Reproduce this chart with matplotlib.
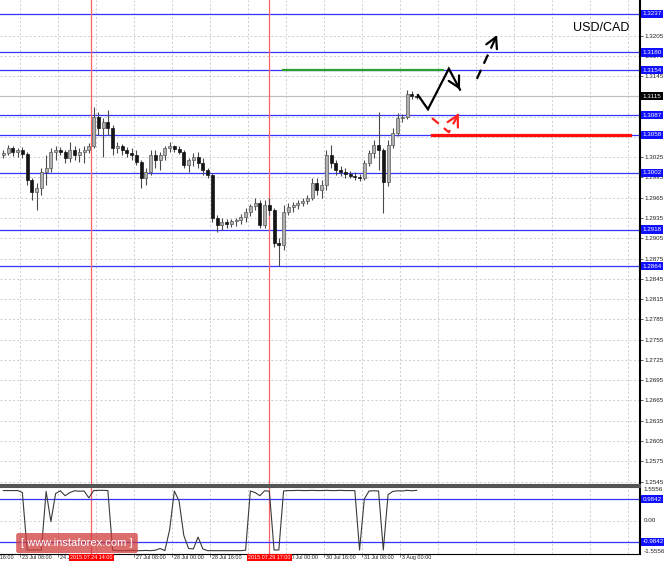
import matplotlib
matplotlib.use('Agg')
import matplotlib.pyplot as plt
import matplotlib.transforms as mtransforms
import numpy as np

plt.rcParams['font.family'] = ['Liberation Sans', 'DejaVu Sans']

# USD/CAD, 2-hour bars; x = trading hours since 23 Jul 08:00 (weekend removed)
first_bar_hour = -8
bar_hours = 2

opens = [1.3028, 1.3031, 1.3039, 1.3033, 1.3036, 1.3030, 1.2991, 1.2974, 1.2980, 1.3003,
         1.3009, 1.3033, 1.3036, 1.3033, 1.3024, 1.3036, 1.3028, 1.3033, 1.3036, 1.3042,
         1.3085, 1.3068, 1.3077, 1.3068, 1.3039, 1.3042, 1.3036, 1.3031, 1.3028, 1.3018,
         1.2994, 1.3003, 1.3028, 1.3021, 1.3028, 1.3039, 1.3042, 1.3037, 1.3033, 1.3014,
         1.3021, 1.3025, 1.3016, 1.3006, 1.2999, 1.2935, 1.2925, 1.2929, 1.2926, 1.2931,
         1.2932, 1.2937, 1.2944, 1.2953, 1.2957, 1.2925, 1.2954, 1.2947, 1.2898, 1.2895,
         1.2944, 1.2951, 1.2954, 1.2957, 1.2960, 1.2965, 1.2987, 1.2977, 1.2984, 1.3028,
         1.3016, 1.3006, 1.3003, 1.3000, 1.2997, 1.2996, 1.2994, 1.3016, 1.3031, 1.3043,
         1.3036, 1.2988, 1.3043, 1.3061, 1.3083, 1.3085, 1.3119, 1.3116]
highs = [1.3036, 1.3043, 1.3042, 1.3039, 1.3040, 1.3033, 1.2994, 1.2987, 1.3009, 1.3028,
         1.3039, 1.3042, 1.3040, 1.3036, 1.3048, 1.3042, 1.3039, 1.3042, 1.3046, 1.3099,
         1.3092, 1.3083, 1.3095, 1.3073, 1.3048, 1.3045, 1.3040, 1.3039, 1.3036, 1.3021,
         1.3009, 1.3036, 1.3036, 1.3033, 1.3042, 1.3048, 1.3043, 1.3042, 1.3036, 1.3024,
         1.3031, 1.3033, 1.3024, 1.3009, 1.3002, 1.2940, 1.2935, 1.2934, 1.2934, 1.2935,
         1.2941, 1.2950, 1.2956, 1.2965, 1.2962, 1.2962, 1.2965, 1.2950, 1.2905, 1.2954,
         1.2957, 1.2959, 1.2962, 1.2965, 1.2969, 1.2994, 1.2994, 1.2991, 1.3036, 1.3043,
         1.3021, 1.3012, 1.3009, 1.3005, 1.3003, 1.3000, 1.3021, 1.3036, 1.3050, 1.3092,
         1.3039, 1.3050, 1.3068, 1.3090, 1.3089, 1.3125, 1.3123, 1.3119]
lows = [1.3024, 1.3028, 1.3027, 1.3025, 1.3024, 1.2984, 1.2962, 1.2947, 1.2969, 1.2984,
        1.3003, 1.3021, 1.3028, 1.3016, 1.3018, 1.3021, 1.3018, 1.3016, 1.3031, 1.3039,
        1.3058, 1.3025, 1.3058, 1.3028, 1.3031, 1.3028, 1.3025, 1.3021, 1.3014, 1.2980,
        1.2984, 1.2999, 1.3009, 1.3006, 1.3021, 1.3033, 1.3033, 1.3030, 1.3009, 1.3003,
        1.3012, 1.3009, 1.2999, 1.2994, 1.2929, 1.2914, 1.2917, 1.2920, 1.2922, 1.2923,
        1.2926, 1.2929, 1.2938, 1.2947, 1.2920, 1.2920, 1.2940, 1.2892, 1.2864, 1.2888,
        1.2940, 1.2944, 1.2948, 1.2953, 1.2956, 1.2962, 1.2969, 1.2965, 1.2977, 1.3009,
        1.2999, 1.2997, 1.2994, 1.2994, 1.2991, 1.2990, 1.2991, 1.3012, 1.3024, 1.3006,
        1.2942, 1.2982, 1.3039, 1.3056, 1.3077, 1.3082, 1.3111, 1.3111]
closes = [1.3031, 1.3039, 1.3033, 1.3036, 1.3030, 1.2991, 1.2974, 1.2980, 1.3003, 1.3009,
          1.3033, 1.3036, 1.3033, 1.3024, 1.3036, 1.3028, 1.3033, 1.3036, 1.3042, 1.3085,
          1.3068, 1.3077, 1.3068, 1.3039, 1.3042, 1.3036, 1.3031, 1.3028, 1.3018, 1.2994,
          1.3003, 1.3028, 1.3021, 1.3028, 1.3039, 1.3042, 1.3037, 1.3033, 1.3014, 1.3021,
          1.3025, 1.3016, 1.3006, 1.2999, 1.2935, 1.2925, 1.2929, 1.2926, 1.2931, 1.2932,
          1.2937, 1.2944, 1.2953, 1.2957, 1.2925, 1.2954, 1.2947, 1.2898, 1.2895, 1.2944,
          1.2951, 1.2954, 1.2957, 1.2960, 1.2965, 1.2987, 1.2977, 1.2984, 1.3028, 1.3016,
          1.3006, 1.3003, 1.3000, 1.2997, 1.2996, 1.2994, 1.3016, 1.3031, 1.3043, 1.3036,
          1.2988, 1.3043, 1.3061, 1.3083, 1.3085, 1.3119, 1.3116, 1.3114]
osc = [1.39, 1.39, 1.39, 1.39, 1.30, -1.37, -1.37, -1.37, -1.37, 1.35,
       -0.05, 1.25, 1.38, 1.15, 1.30, 1.38, 1.36, 1.37, 1.05, 1.39,
       1.40, 1.40, 1.39, -1.37, -1.40, -1.40, -1.40, -1.39, -1.40, -1.40,
       -1.39, -1.40, -1.38, -1.30, -1.40, -0.44, 1.37, 0.90, -0.70, -1.30,
       -1.32, -0.77, -1.32, -1.40, -1.40, -1.40, -1.40, -1.40, -1.40, -1.40,
       -1.40, -1.38, 1.37, 1.30, 1.15, 1.38, 1.36, -1.37, -1.37, 1.37,
       1.39, 1.39, 1.40, 1.39, 1.39, 1.40, 1.39, 1.39, 1.40, 1.39,
       1.39, 1.40, 1.39, 1.39, 1.39, -1.37, 1.00, 1.37, 1.38, 1.37,
       -1.37, 1.20, 1.35, 1.38, 1.37, 1.40, 1.38, 1.40]

levels = [1.3237, 1.3180, 1.3154, 1.3087, 1.3058, 1.3002, 1.2918, 1.2864]
last_price = 1.3115
osc_levels = [0.9842, -0.9842]
osc_range = 1.5556

# 24 Jul 16:00 and 29 Jul 08:00 sit under the red event labels
time_labels = ['22 Jul 16:00', '23 Jul 08:00', '24 Jul 00:00', '27 Jul 08:00',
               '28 Jul 00:00', '28 Jul 16:00', '30 Jul 00:00', '30 Jul 16:00',
               '31 Jul 08:00', '3 Aug 00:00']
time_hours = [-16, 0, 16, 48, 64, 80, 112, 128, 144, 160]
event_labels = ['2015.07.24 14:00', '2015.07.29 17:00']
event_hours = [30, 105]

# hand-drawn forecast sketch
resist_hours, resist_price = [110.7, 178.1], 1.3154
support_hours, support_price = [173.5, 256.9], 1.3058
path_hours = [167.6, 171.8, 180.6, 185.3]
path_prices = [1.3117, 1.3096, 1.3156, 1.3125]
next_hours = [192.4, 200.9]
next_prices = [1.3141, 1.3206]
alt_hours = [173.5, 180.6, 184.8]
alt_prices = [1.3083, 1.3062, 1.3090]

W, H = 664, 562
fig = plt.figure(figsize=(W / 100, H / 100), dpi=100)
fig.patch.set_facecolor('white')
ax = fig.add_axes([0, 77 / H, 640 / W, 485 / H])
ax2 = fig.add_axes([0, 8 / H, 640 / W, 67 / H])

xmin, xmax = -8.42, 261.1
grid_kw = dict(color='#c8c8c8', lw=0.6, linestyle=(0, (2.5, 2.5)), zorder=0)

# ---- main panel ----
ax.set_xlim(xmin, xmax)
ax.set_ylim(1.25399, 1.32577)
price_ticks = np.arange(12545, 13206, 30) / 1e4
for p in price_ticks:
    ax.axhline(p, **grid_kw)
for h in np.arange(-16, 262, 16):
    ax.axvline(h, **grid_kw)
    ax2.axvline(h, **grid_kw)

ax.axhline(last_price, color='#c0c0c0', lw=0.9, zorder=1)
for lv in levels:
    ax.axhline(lv, color='#3535ff', lw=0.9, zorder=1)
for h in event_hours:
    ax.axvline(h, color='#ff6060', lw=0.9, zorder=1)
    ax2.axvline(h, color='#ff6060', lw=0.9, zorder=1)

o = np.array(opens)
c = np.array(closes)
x = first_bar_hour + bar_hours * np.arange(len(c)) + bar_hours / 2
up = c >= o
ax.vlines(x, lows, highs, color='#4a4a4a', lw=0.8, zorder=3)
body = np.maximum(np.abs(c - o), 0.00006)
ax.bar(x[up], body[up], bottom=o[up], width=1.3, color='#b0b0b0',
       edgecolor='#5a5a5a', linewidth=0.5, zorder=4)
ax.bar(x[~up], body[~up], bottom=c[~up], width=1.3, color='#151515',
       edgecolor='#151515', linewidth=0.5, zorder=4)

# forecast drawings
ax.plot(resist_hours, [resist_price] * 2, color='#2ca02c', lw=1.6, zorder=6)
ax.plot(support_hours, [support_price] * 2, color='#ff1010', lw=2.3, zorder=6)
ax.plot(path_hours, path_prices, color='black', lw=1.6, zorder=7,
        solid_joinstyle='miter')
ax.plot(next_hours, next_prices, color='black', lw=1.6, zorder=7,
        linestyle=(0, (4.5, 3)))
ax.plot(alt_hours, alt_prices, color='#ff2020', lw=1.6, zorder=7,
        linestyle=(0, (4, 3)))


def head(xs, ys, color):
    ax.annotate('', xy=(xs[-1], ys[-1]),
                xytext=(xs[-1] - 0.1 * (xs[-1] - xs[-2]), ys[-1] - 0.1 * (ys[-1] - ys[-2])),
                arrowprops=dict(arrowstyle='->,head_length=0.55,head_width=0.3',
                                color=color, lw=1.6, shrinkA=0, shrinkB=0,
                                mutation_scale=14), zorder=8)


head(path_hours, path_prices, 'black')
head(next_hours, next_prices, 'black')
head(alt_hours, alt_prices, '#ff2020')

ax.text(0.94, 0.943, 'USD/CAD', transform=ax.transAxes, fontsize=9,
        ha='center', va='center', color='black')

# price scale; the boxed level labels cover the ticks right under them
boxed = levels + [last_price]
ax.yaxis.tick_right()
ax.set_yticks(price_ticks)
ax.set_yticklabels(['' if min(abs(p - b) for b in boxed) < 0.00045 else f'{p:.4f}'
                    for p in price_ticks])
ax.tick_params(axis='y', labelsize=4.5, length=2, width=0.5, pad=1.5,
               colors='#202020')
ax.set_xticks([])
for s in ['left', 'top']:
    ax.spines[s].set_visible(False)
ax.spines['right'].set_linewidth(1.5)
ax.spines['bottom'].set_linewidth(1.5)
ax.spines['bottom'].set_color('#555555')

trans = mtransforms.blended_transform_factory(ax.transAxes, ax.transData)
for lv in levels:
    ax.text(1.004, lv, f'{lv:.4f}', transform=trans, ha='left', va='center',
            fontsize=4.5, color='white', clip_on=False, zorder=10,
            bbox=dict(boxstyle='square,pad=0.25', fc='#1010ff', ec='none'))
ax.text(1.004, last_price, f'{last_price:.4f}', transform=trans, ha='left',
        va='center', fontsize=4.5, color='white', clip_on=False, zorder=10,
        bbox=dict(boxstyle='square,pad=0.25', fc='black', ec='none'))

# ---- oscillator panel ----
ax2.set_xlim(xmin, xmax)
ax2.set_ylim(-osc_range, osc_range)
ax2.axhline(0, **grid_kw)
for lv in osc_levels:
    ax2.axhline(lv, color='#3535ff', lw=0.9, zorder=1)
ax2.plot(x, osc, color='#3a3a3a', lw=0.8, zorder=3)

ax2.yaxis.tick_right()
ax2.set_yticks([-osc_range, 0, osc_range])
ax2.set_yticklabels([f'{-osc_range:.4f}', '0.00', f'{osc_range:.4f}'])
ax2.tick_params(axis='y', labelsize=4.5, length=0, pad=2.5, colors='#202020')
yl = ax2.get_yticklabels()
yl[0].set_va('bottom')
yl[2].set_va('top')
ax2.set_xticks([h for h in time_hours if xmin <= h <= xmax])
ax2.set_xticklabels([])
ax2.tick_params(axis='x', length=2, width=0.5, colors='#404040')
ax2.spines['left'].set_visible(False)
ax2.spines['right'].set_linewidth(1.5)
ax2.spines['top'].set_linewidth(1.5)
ax2.spines['top'].set_color('#555555')

trans2 = mtransforms.blended_transform_factory(ax2.transAxes, ax2.transData)
for lv in osc_levels:
    ax2.text(1.004, lv, f'{lv:.4f}', transform=trans2, ha='left', va='center',
             fontsize=4.5, color='white', clip_on=False, zorder=10,
             bbox=dict(boxstyle='square,pad=0.25', fc='#1010ff', ec='none'))

tx = mtransforms.blended_transform_factory(ax2.transData, fig.transFigure)
for lab, h in zip(time_labels, time_hours):
    ax2.text(h + 0.8, 4.5 / H, lab, transform=tx, ha='left', va='center',
             fontsize=3.9, color='#202020', clip_on=False)
for lab, h in zip(event_labels, event_hours):
    ax2.text(h, 4.5 / H, lab, transform=tx, ha='center', va='center',
             fontsize=3.9, color='white', clip_on=False, zorder=10,
             bbox=dict(boxstyle='square,pad=0.25', fc='#ff0000', ec='none'))

fig.text(77 / W, 1 - 543 / H, '[ www.instaforex.com ]', ha='center', va='center',
         fontsize=8, color='white',
         bbox=dict(boxstyle='round,pad=0.45,rounding_size=0.2', fc='#d03c3c',
                   ec='none', alpha=0.75))

fig.savefig('out.png', dpi=100)
